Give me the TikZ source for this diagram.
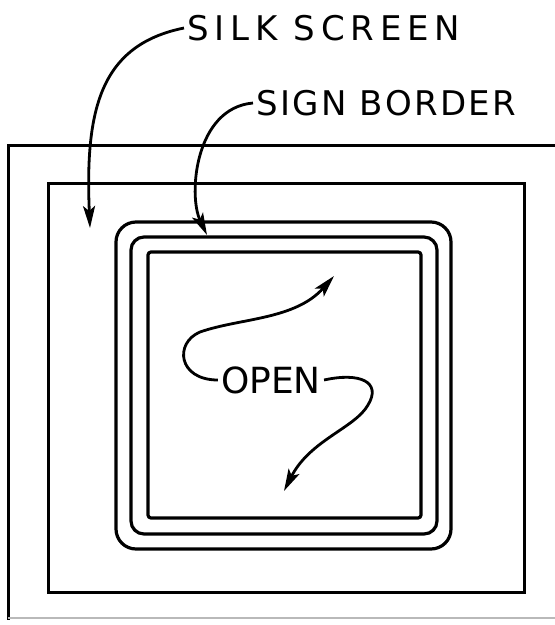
\documentclass[tikz,border=0pt]{standalone}
\usepackage{fontspec}
\setmainfont{DejaVu Sans}
\usetikzlibrary{arrows.meta}
\tikzset{
  lead/.style={-{Stealth[length=22pt,width=12pt,inset=5pt]}, line width=2.8pt},
  frm/.style={line width=3pt},
  bord/.style={line width=3.2pt},
  lbl/.style={font=\fontsize{34}{40}\selectfont, inner sep=3pt},
}

\begin{document}
\begin{tikzpicture}[x=1pt,y=-1pt]
  \useasboundingbox (0,0) rectangle (555,625);
  \draw[frm] (555,145) -- (8,145) -- (8,620);
  \draw[line width=1.6pt, gray!55] (8,618) -- (555,618);
  \draw[frm] (48,183) rectangle (524,592);
  \draw[bord, rounded corners=20pt] (116,222) rectangle (451,549);
  \draw[bord, rounded corners=13pt] (131,237) rectangle (437,534);
  \draw[bord, rounded corners=3pt] (148,252) rectangle (421,518);
  \node[lbl, anchor=west] (silk) at (184,28) {\addfontfeature{LetterSpace=17}SILK SCREEN};
  \node[lbl, anchor=west] (sign) at (253,103) {\addfontfeature{LetterSpace=7}SIGN BORDER};
  \node[lbl, font=\fontsize{36}{42}\selectfont] (open) at (271,380) {OPEN};
  \coordinate (silktip) at (90,228);
  \coordinate (signtip) at (207,235);
  \coordinate (uptip) at (334,276);
  \coordinate (downtip) at (284,491);
  \draw[lead] (silk.west) .. controls (100,45) and (85,110) .. (silktip);
  \draw[lead] (sign.west) .. controls (195,108) and (188,195) .. (signtip);
  \draw[lead] (open.west) .. controls (178,380) and (174,343) .. (200,332)
    .. controls (240,318) and (295,320) .. (uptip);
  \draw[lead] (open.east) .. controls (360,372) and (382,382) .. (368,405)
    .. controls (355,428) and (310,440) .. (downtip);
\end{tikzpicture}
\end{document}
